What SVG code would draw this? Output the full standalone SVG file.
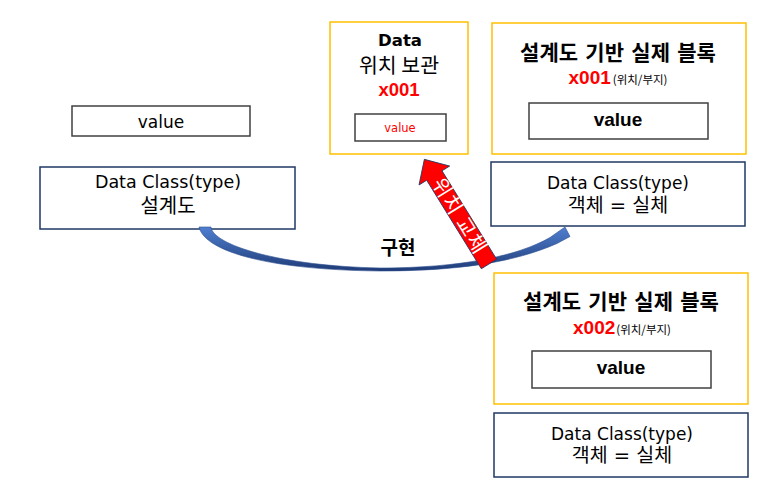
<svg xmlns="http://www.w3.org/2000/svg" width="767" height="490" viewBox="0 0 767 490">
<style>
.yb{fill:#fff;stroke:#ffc000;stroke-width:1.5}
.nb{fill:#fff;stroke:#1f3864;stroke-width:1.5}
.vb{fill:#fff;stroke:#404040;stroke-width:1.5}
text{font-family:"DejaVu Sans","Noto Sans CJK KR",sans-serif;fill:#000;text-anchor:middle}
.ko{font-family:"Noto Sans CJK KR",sans-serif}
.b{font-weight:bold}
.lb{font-family:"Liberation Sans","Noto Sans CJK KR",sans-serif;font-weight:bold}
.red{fill:#ff0000}
</style>
<defs>
<linearGradient id="blu" x1="0" y1="0" x2="0" y2="1">
<stop offset="0" stop-color="#4f7fd0"/>
<stop offset="1" stop-color="#1f3c78"/>
</linearGradient>
</defs>
<g id="value-left">
<rect class="vb" x="72" y="106" width="178" height="30"/>
<text x="161" y="128" font-size="17">value</text>
</g>
<g id="class-left">
<rect class="nb" x="40" y="167" width="255" height="62"/>
<text x="168" y="188" font-size="17.5">Data Class(type)</text>
<text class="ko" x="168" y="213" font-size="20">설계도</text>
</g>
<g id="data-box">
<rect class="yb" x="330" y="22" width="138" height="132"/>
<text class="b" x="400" y="46" font-size="16.5">Data</text>
<text class="ko" x="399" y="73" font-size="20.5">위치 보관</text>
<text class="lb red" x="399" y="96" font-size="18.5">x001</text>
<rect class="vb" x="355" y="114" width="91" height="27"/>
<text class="red" x="400" y="132" font-size="11.5">value</text>
</g>
<g id="block-1">
<rect class="yb" x="492" y="23" width="254" height="131"/>
<text class="b" x="618" y="60" font-size="21">설계도 기반 실제 블록</text>
<text x="618" y="84"><tspan class="lb red" font-size="19">x001</tspan><tspan class="ko" font-size="11.5" dx="2">(위치/부지)</tspan></text>
<rect class="vb" x="529" y="103" width="179" height="36"/>
<text class="lb" x="618" y="126" font-size="19">value</text>
</g>
<g id="class-1">
<rect class="nb" x="491" y="162" width="254" height="64"/>
<text x="618" y="189" font-size="17">Data Class(type)</text>
<text x="618" y="212" font-size="19.5">객체 = 실체</text>
</g>
<g id="block-2">
<rect class="yb" x="494" y="273" width="254" height="131"/>
<text class="b" x="621" y="309" font-size="21">설계도 기반 실제 블록</text>
<text x="622" y="334"><tspan class="lb red" font-size="19">x002</tspan><tspan class="ko" font-size="11.5" dx="1">(위치/부지)</tspan></text>
<rect class="vb" x="532" y="351" width="179" height="37"/>
<text class="lb" x="621" y="374" font-size="19">value</text>
</g>
<g id="class-2">
<rect class="nb" x="494" y="413" width="254" height="64"/>
<text x="622" y="440" font-size="17">Data Class(type)</text>
<text x="622" y="462" font-size="19.5">객체 = 실체</text>
</g>
<g id="connectors">
<path d="M199,227 L211,227 C213,245 280,266 380,268 C460,268 518,256 550,237.5 L565,227 L570,236.5 L557,243.5 C515,262 460,271 380,271 C270,270 205,252 199,227 Z" fill="url(#blu)" stroke="#2f4f8f" stroke-width="0.6"/>
<text class="ko b" x="398" y="255" font-size="19">구현</text>
<g transform="translate(489,264) rotate(-31.7)">
<polygon points="-9,0 9,0 9,-104 18,-104 0,-123 -18,-104 -9,-104" fill="#ff0000" stroke="#1f3864" stroke-width="0.8"/>
<text class="ko" transform="rotate(90)" x="-56" y="7" font-size="20" letter-spacing="1.5" style="fill:#fff">위치 교체</text>
</g>
</g>
</svg>
